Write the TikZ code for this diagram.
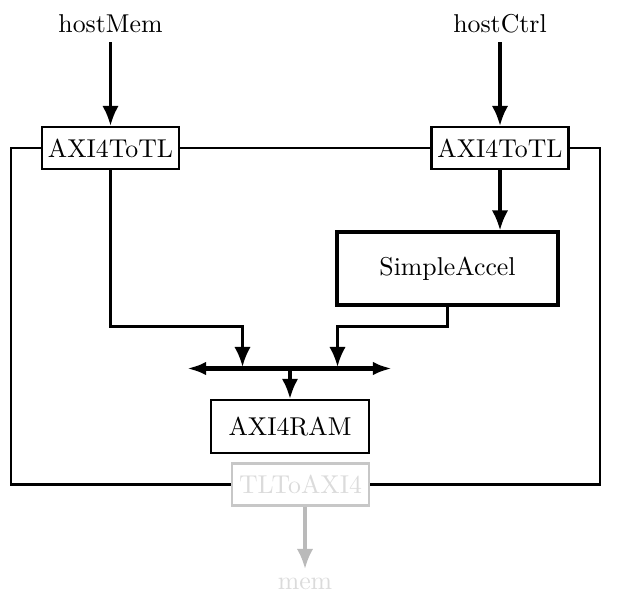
\documentclass[tikz,border=0pt]{standalone}
\usetikzlibrary{arrows.meta}
\begin{document}
\begin{tikzpicture}
	[x=0.013624cm, y=-0.013624cm,
	box/.style={draw,line width=0.8pt,minimum width=53.1pt,minimum height=16.3pt,inner sep=2pt},
	accelbox/.style={draw,line width=1.2pt,minimum width=85.7pt,minimum height=28.3pt},
	rambox/.style={draw,line width=0.9pt,minimum width=61.2pt,minimum height=20.5pt},
	faded/.style={text=black!14,draw=black!22},
	link/.style={line width=0.8pt},
	arr/.style={line width=1.3pt,-{Latex[length=7.8pt,width=6.4pt]}},
	busline/.style={line width=1.9pt,{Latex[length=7.4pt,width=5.2pt]}-{Latex[length=7.4pt,width=5.2pt]}}]
	\useasboundingbox (0,0) rectangle (623,602);
	\node (hostMem) at (110.5,24) {hostMem};
	\node (hostCtrl) at (500,24) {hostCtrl};
	\node[box] (memtl) at (110.5,148) {AXI4ToTL};
	\node[box] (ctrltl) at (500,148) {AXI4ToTL};
	\node[accelbox] (accel) at (447.5,268.5) {SimpleAccel};
	\node[rambox] (ram) at (290,426.5) {AXI4RAM};
	\node[box,faded] (tlaxi) at (300.5,484.5) {TLToAXI4};
	\node[text=black!14] (mem) at (305,584) {mem};
	\coordinate (busl) at (187,368.5);
	\coordinate (busr) at (392,368.5);
	\coordinate (ina) at (242.5,367);
	\coordinate (inb) at (337.5,367);
	\coordinate (ramin) at (290,368.5);
	\draw[link] (memtl.west) -| (11,484.5) -- (tlaxi.west);
	\draw[link] (tlaxi.east) -| (600,148) -- (ctrltl.east);
	\draw[link] (memtl.east) -- (ctrltl.west);
	\draw[arr] (hostMem) -- (memtl);
	\draw[arr] (hostCtrl) -- (ctrltl);
	\draw[arr] (ctrltl.south) -- (ctrltl.south |- accel.north);
	\draw[arr] (memtl.south) -- (memtl.south |- 0,326.5) -| (ina);
	\draw[arr] (accel.south) -- (accel.south |- 0,326.5) -| (inb);
	\draw[busline] (busl) -- (busr);
	\draw[arr] (ramin) -- (ram);
	\draw[arr,draw=black!27,fill=black!27] (mem |- tlaxi.south) -- (mem);
\end{tikzpicture}
\end{document}
